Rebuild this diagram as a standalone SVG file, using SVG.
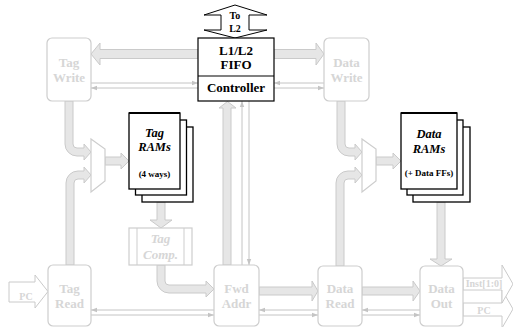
<svg xmlns="http://www.w3.org/2000/svg" width="513" height="327" viewBox="0 0 513 327">
<style>
.gbox{fill:#fff;stroke:#cdcdcd;stroke-width:1.2}
.gtxt{font-family:"Liberation Serif",serif;font-weight:bold;font-size:13px;fill:#d6d6d6;text-anchor:middle}
.btxt{font-family:"Liberation Serif",serif;font-weight:bold;font-size:13px;fill:#000;text-anchor:middle}
.it{font-style:italic}
.warr{fill:#e6e6e6;stroke:#cacaca;stroke-width:1}
.oarr{fill:#fff;stroke:#cacaca;stroke-width:1}
.thin{fill:none;stroke:#c4c4c4;stroke-width:1}
.sheet{fill:#fff;stroke:#000;stroke-width:1.3}
</style>
<defs>
<marker id="ah" viewBox="0 0 6 6" refX="6" refY="3" markerWidth="6" markerHeight="6" markerUnits="userSpaceOnUse" orient="auto">
<path d="M0,0.8 L6,3 L0,5.2 Z" fill="#c4c4c4"/>
</marker>
</defs>

<g id="connectors">
<path class="warr" d="M198,49.5 L100,49.5 L100,43 L91,54 L100,65 L100,58.5 L198,58.5 Z"/>
<path class="warr" d="M274,49.5 L316,49.5 L316,43 L324,54 L316,65 L316,58.5 L274,58.5 Z"/>
<path class="warr" d="M65,101 L65,144 A12,12 0 0 0 77,156 L84,156 L84,160 L91,152 L84,144 L84,148 L77,148 A4,4 0 0 1 73,144 L73,101 Z"/>
<path class="warr" d="M66,265 L66,183 A12,12 0 0 1 78,171 L84,171 L84,167 L91,175 L84,183 L84,179 L78,179 A4,4 0 0 0 74,183 L74,265 Z"/>
<path class="warr" d="M105,157 L121,157 L121,153 L129,161 L121,169 L121,165 L105,165 Z"/>
<path class="warr" d="M157,202 L157,220 L150,220 L161,228 L172,220 L165,220 L165,202 Z"/>
<path class="warr" d="M157,265 L157,281 A12,12 0 0 0 169,293 L206,293 L206,297 L214,289 L206,281 L206,285 L169,285 A4,4 0 0 1 165,281 L165,265 Z"/>
<path class="warr" d="M223,265 L223,108 L219,108 L227.5,101.5 L236,108 L231,108 L231,265 Z"/>
<path class="warr" d="M259,287 L312,287 L312,281 L318,291 L312,301 L312,295 L259,295 Z"/>
<path class="warr" d="M362,287 L413,287 L413,281 L420,291 L413,301 L413,295 L362,295 Z"/>
<path class="warr" d="M337,101 L337,144 A12,12 0 0 0 349,156 L355,156 L355,160 L362,152 L355,144 L355,148 L349,148 A4,4 0 0 1 345,144 L345,101 Z"/>
<path class="warr" d="M336,266 L336,183 A12,12 0 0 1 348,171 L355,171 L355,167 L362,175 L355,183 L355,179 L348,179 A4,4 0 0 0 344,183 L344,266 Z"/>
<path class="warr" d="M376,157 L393,157 L393,153 L401,161 L393,169 L393,165 L376,165 Z"/>
<path class="warr" d="M437,202 L437,259 L430,259 L441,266 L452,259 L445,259 L445,202 Z"/>
<path class="oarr" d="M9,282 L35,282 L35,275 L48,291.5 L35,308 L35,302 L9,302 Z"/>
<path class="oarr" d="M463,303 L502,303 L502,290 L513,309 L502,328 L502,316 L463,316 Z"/>
<path class="oarr" d="M463,278 L502,278 L502,265 L513,284 L502,303 L502,290 L463,290 Z"/>

<line class="thin" x1="91" y1="83" x2="198" y2="83" marker-end="url(#ah)"/>
<line class="thin" x1="198" y1="88" x2="91" y2="88" marker-end="url(#ah)"/>
<line class="thin" x1="324" y1="83" x2="274" y2="83" marker-end="url(#ah)"/>
<line class="thin" x1="274" y1="88" x2="324" y2="88" marker-end="url(#ah)"/>
<line class="thin" x1="242" y1="265" x2="242" y2="101" marker-end="url(#ah)"/>
<line class="thin" x1="249" y1="101" x2="249" y2="265" marker-end="url(#ah)"/>
<line class="thin" x1="214" y1="310" x2="91" y2="310" marker-end="url(#ah)"/>
<line class="thin" x1="91" y1="315" x2="214" y2="315" marker-end="url(#ah)"/>
<line class="thin" x1="318" y1="310" x2="259" y2="310" marker-end="url(#ah)"/>
<line class="thin" x1="259" y1="315" x2="318" y2="315" marker-end="url(#ah)"/>
<line class="thin" x1="420" y1="310" x2="362" y2="310" marker-end="url(#ah)"/>
<line class="thin" x1="362" y1="315" x2="420" y2="315" marker-end="url(#ah)"/>
</g>

<g id="to-l2">
<path d="M235,5 L267,15 L249,15 L249,30 L267,30 L235,38 L204,30 L221,30 L221,15 L204,15 Z" fill="#fff" stroke="#000" stroke-width="1"/>
<text class="btxt" x="235" y="18.5" style="font-size:10px">To</text>
<text class="btxt" x="235" y="32" style="font-size:10px">L2</text>
</g>

<g id="fifo">
<rect x="198" y="38" width="76" height="63" fill="#fff" stroke="#000" stroke-width="1.2"/>
<line x1="198" y1="76" x2="274" y2="76" stroke="#000" stroke-width="1.2"/>
<text class="btxt" x="236" y="54.5">L1/L2</text>
<text class="btxt" x="236" y="68.5">FIFO</text>
<text class="btxt" x="236" y="92">Controller</text>
</g>

<g id="tag-write">
<rect class="gbox" x="47" y="38" width="44" height="63" rx="5"/>
<text class="gtxt" x="69" y="67">Tag</text>
<text class="gtxt" x="69" y="82">Write</text>
</g>

<g id="data-write">
<rect class="gbox" x="324" y="38" width="45" height="63" rx="5"/>
<text class="gtxt" x="346.5" y="67">Data</text>
<text class="gtxt" x="346.5" y="82">Write</text>
</g>

<g id="tag-mux">
<polygon class="gbox" points="91,139 105,149 105,181 91,192"/>
</g>

<g id="data-mux">
<polygon class="gbox" points="362,139 376,149 376,181 362,192"/>
</g>

<g id="tag-rams">
<rect class="sheet" x="142" y="127" width="51" height="75"/>
<rect class="sheet" x="135.5" y="120" width="51" height="75"/>
<rect class="sheet" x="129" y="113" width="51" height="76"/>
<line x1="129" y1="113" x2="180" y2="113" stroke="#000" stroke-width="2"/>
<text class="btxt it" x="154.5" y="136.5" style="font-size:12.5px">Tag</text>
<text class="btxt it" x="154.5" y="151" style="font-size:12.5px">RAMs</text>
<text class="btxt" x="154.5" y="176.5" style="font-size:9px">(4 ways)</text>
</g>

<g id="data-rams">
<rect class="sheet" x="413" y="127" width="57" height="75"/>
<rect class="sheet" x="407" y="120" width="56" height="75"/>
<rect class="sheet" x="401" y="113" width="56" height="76"/>
<line x1="401" y1="113" x2="457" y2="113" stroke="#000" stroke-width="2"/>
<text class="btxt it" x="429" y="138" style="font-size:12.5px">Data</text>
<text class="btxt it" x="429" y="152.5" style="font-size:12.5px">RAMs</text>
<text class="btxt" x="429" y="176" style="font-size:9px">(+ Data FFs)</text>
</g>

<g id="tag-comp">
<rect x="129" y="228" width="63" height="37" fill="#fff" stroke="#cdcdcd" stroke-width="1.2"/>
<line x1="137" y1="228" x2="137" y2="265" stroke="#cdcdcd" stroke-width="1"/>
<line x1="184" y1="228" x2="184" y2="265" stroke="#cdcdcd" stroke-width="1"/>
<text class="gtxt it" x="160.5" y="242.5">Tag</text>
<text class="gtxt it" x="160.5" y="258.5">Comp.</text>
</g>

<g id="tag-read">
<rect class="gbox" x="48" y="265" width="43" height="61" rx="5"/>
<text class="gtxt" x="69.5" y="293">Tag</text>
<text class="gtxt" x="69.5" y="307.5">Read</text>
</g>

<g id="fwd-addr">
<rect class="gbox" x="214" y="265" width="45" height="61" rx="5"/>
<text class="gtxt" x="236.5" y="293">Fwd</text>
<text class="gtxt" x="236.5" y="307.5">Addr</text>
</g>

<g id="data-read">
<rect class="gbox" x="318" y="266" width="44" height="60" rx="5"/>
<text class="gtxt" x="340" y="293">Data</text>
<text class="gtxt" x="340" y="307.5">Read</text>
</g>

<g id="data-out">
<rect class="gbox" x="420" y="266" width="43" height="60" rx="5"/>
<text class="gtxt" x="441.5" y="293">Data</text>
<text class="gtxt" x="441.5" y="307.5">Out</text>
</g>

<g id="labels">
<text class="gtxt" x="26" y="300" style="font-size:10px">PC</text>
<text class="gtxt" x="484" y="287" style="font-size:10px">Inst[1:0]</text>
<text class="gtxt" x="484" y="313.5" style="font-size:10px">PC</text>
</g>
</svg>
